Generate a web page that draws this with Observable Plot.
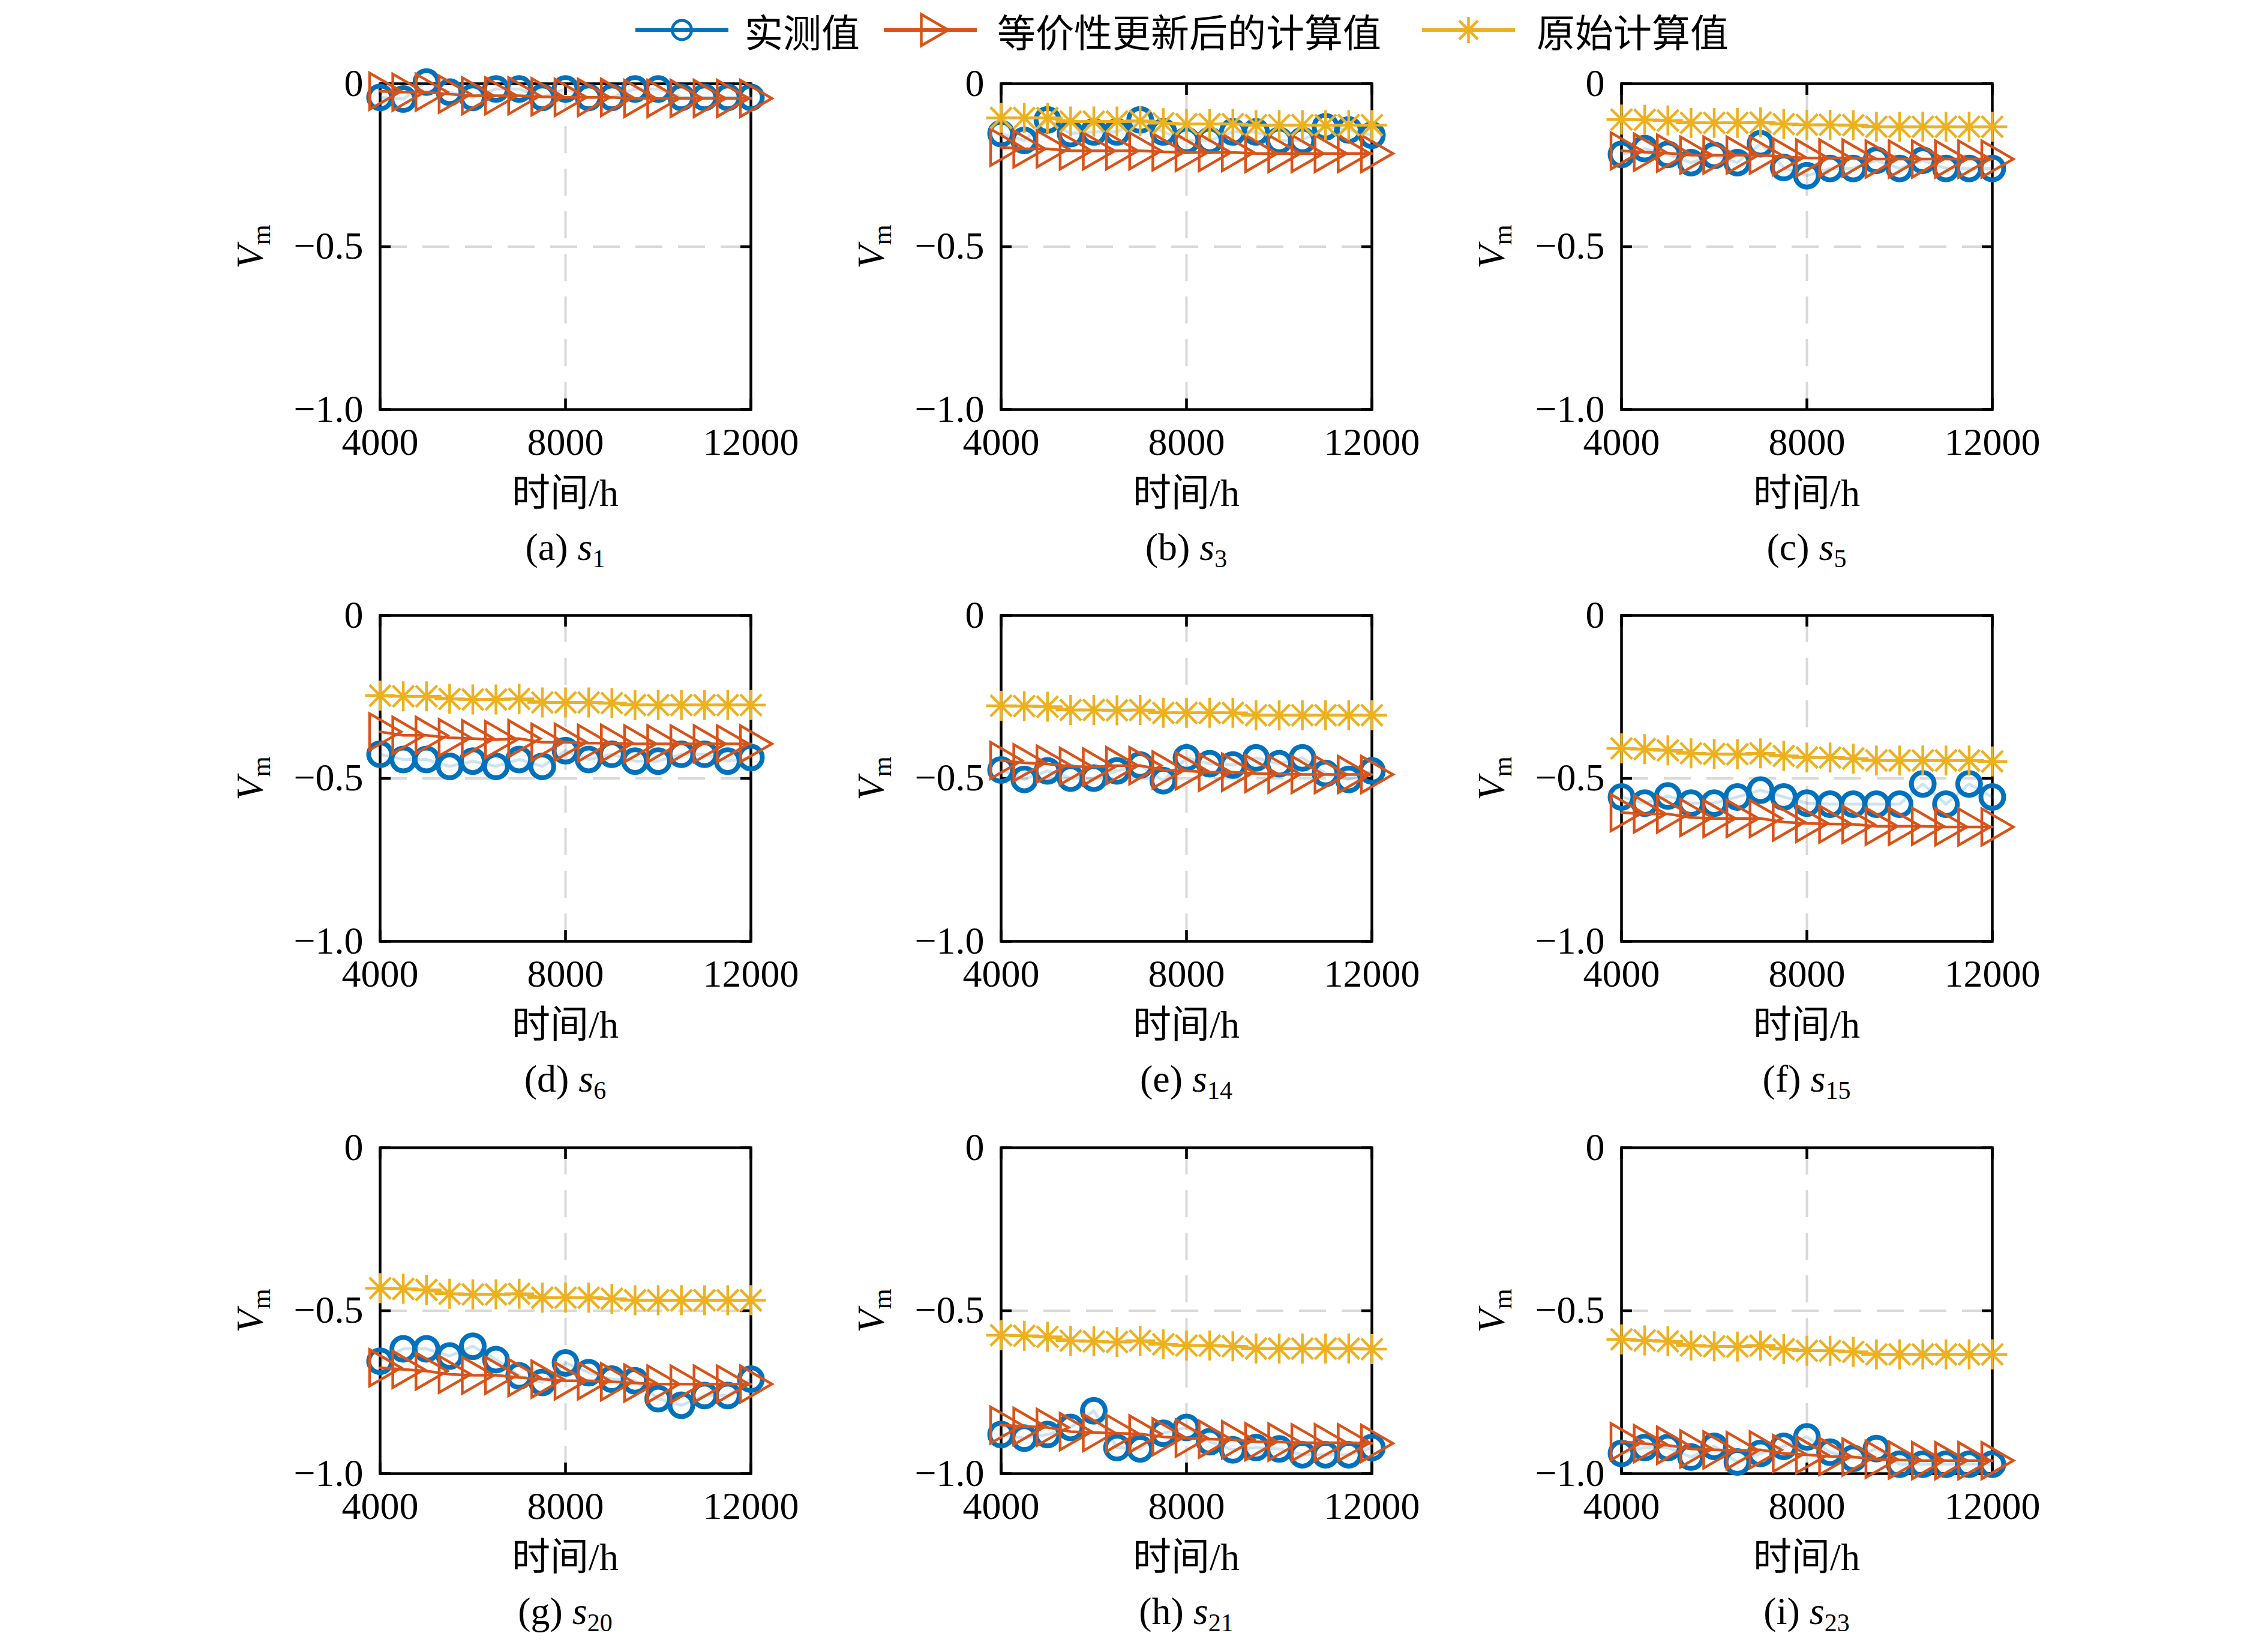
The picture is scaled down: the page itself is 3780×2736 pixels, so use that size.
<!DOCTYPE html>
<html><head><meta charset="utf-8">
<script src="https://cdn.jsdelivr.net/npm/d3@7"></script>
<script src="https://cdn.jsdelivr.net/npm/@observablehq/plot@0.6"></script>
<style>
body{margin:0;background:#fff;}
#fig{position:relative;width:3780px;height:2736px;background:#fff;overflow:hidden;font-family:"Liberation Serif","Noto Sans CJK SC",serif;color:#000;}
.abs{position:absolute;white-space:nowrap;line-height:1;}
.ctr{transform:translate(-50%,-50%);}
.txt{font-size:64px;font-family:"Liberation Serif","Noto Sans CJK SC",serif;}
.leg{font-size:64px;line-height:1.5;font-family:"Noto Sans CJK SC",sans-serif;transform:translateY(-50%);}
.panel{position:absolute;}
</style></head>
<body><div id="fig"></div>
<script>
// ---------- data ----------
const hours = [4000,4500,5000,5500,6000,6500,7000,7500,8000,8500,9000,9500,10000,10500,11000,11500,12000];
const letters = ["a","b","c","d","e","f","g","h","i"];
const sensors = ["1","3","5","6","14","15","20","21","23"];
const seriesNames = ["实测值","等价性更新后的计算值","原始计算值"];
const xTicks = [4000,8000,12000];
const yTicks = [0,-0.5,-1.0];

// (a) s1
const meas_s1 = [-0.042,-0.047,0.005,-0.026,-0.042,-0.016,-0.016,-0.042,-0.016,-0.042,-0.042,-0.016,-0.016,-0.042,-0.042,-0.042,-0.042];
const upd_s1  = [-0.023,-0.026,-0.026,-0.032,-0.037,-0.037,-0.037,-0.040,-0.042,-0.042,-0.042,-0.045,-0.045,-0.045,-0.045,-0.045,-0.045];
const orig_s1 = [];
// (b) s3
const meas_s3 = [-0.153,-0.174,-0.111,-0.153,-0.148,-0.148,-0.111,-0.148,-0.174,-0.174,-0.148,-0.148,-0.174,-0.174,-0.132,-0.142,-0.158];
const upd_s3  = [-0.195,-0.200,-0.200,-0.206,-0.206,-0.206,-0.206,-0.209,-0.211,-0.211,-0.211,-0.214,-0.214,-0.214,-0.214,-0.214,-0.214];
const orig_s3 = [-0.105,-0.105,-0.105,-0.116,-0.116,-0.116,-0.114,-0.121,-0.124,-0.124,-0.124,-0.127,-0.127,-0.127,-0.127,-0.127,-0.127];
// (c) s5
const meas_s5 = [-0.217,-0.199,-0.217,-0.242,-0.220,-0.242,-0.184,-0.257,-0.282,-0.260,-0.260,-0.235,-0.260,-0.235,-0.260,-0.260,-0.260];
const upd_s5  = [-0.206,-0.210,-0.213,-0.219,-0.219,-0.219,-0.219,-0.224,-0.228,-0.228,-0.228,-0.231,-0.231,-0.231,-0.231,-0.231,-0.231];
const orig_s5 = [-0.110,-0.111,-0.113,-0.120,-0.120,-0.120,-0.119,-0.124,-0.126,-0.126,-0.127,-0.132,-0.132,-0.132,-0.132,-0.132,-0.132];
// (d) s6
const meas_s6 = [-0.426,-0.442,-0.442,-0.463,-0.447,-0.463,-0.442,-0.463,-0.415,-0.442,-0.426,-0.447,-0.447,-0.426,-0.426,-0.447,-0.436];
const upd_s6  = [-0.357,-0.368,-0.368,-0.375,-0.378,-0.381,-0.378,-0.389,-0.389,-0.392,-0.392,-0.394,-0.394,-0.394,-0.394,-0.394,-0.394];
const orig_s6 = [-0.246,-0.248,-0.248,-0.256,-0.258,-0.258,-0.256,-0.267,-0.267,-0.267,-0.269,-0.275,-0.275,-0.275,-0.275,-0.275,-0.275];
// (e) s14
const meas_s14 = [-0.474,-0.503,-0.477,-0.499,-0.499,-0.477,-0.459,-0.507,-0.437,-0.455,-0.459,-0.437,-0.455,-0.437,-0.485,-0.503,-0.477];
const upd_s14  = [-0.445,-0.452,-0.456,-0.463,-0.465,-0.461,-0.461,-0.474,-0.477,-0.481,-0.481,-0.485,-0.487,-0.488,-0.488,-0.488,-0.488];
const orig_s14 = [-0.277,-0.278,-0.280,-0.290,-0.290,-0.291,-0.290,-0.299,-0.299,-0.299,-0.299,-0.306,-0.306,-0.306,-0.306,-0.306,-0.306];
// (f) s15
const meas_s15 = [-0.557,-0.576,-0.554,-0.576,-0.576,-0.557,-0.536,-0.557,-0.576,-0.579,-0.579,-0.579,-0.579,-0.517,-0.579,-0.517,-0.557];
const upd_s15  = [-0.605,-0.609,-0.609,-0.620,-0.623,-0.623,-0.623,-0.634,-0.638,-0.640,-0.641,-0.647,-0.647,-0.647,-0.649,-0.649,-0.649];
const orig_s15 = [-0.408,-0.410,-0.414,-0.423,-0.425,-0.426,-0.423,-0.431,-0.436,-0.436,-0.439,-0.445,-0.445,-0.445,-0.445,-0.445,-0.448];
// (g) s20
const meas_s20 = [-0.655,-0.617,-0.617,-0.639,-0.609,-0.650,-0.700,-0.720,-0.660,-0.690,-0.710,-0.715,-0.770,-0.790,-0.760,-0.760,-0.710];
const upd_s20  = [-0.675,-0.680,-0.685,-0.695,-0.698,-0.698,-0.705,-0.710,-0.715,-0.715,-0.718,-0.722,-0.725,-0.725,-0.725,-0.725,-0.725];
const orig_s20 = [-0.431,-0.433,-0.436,-0.448,-0.450,-0.450,-0.448,-0.460,-0.460,-0.460,-0.463,-0.468,-0.468,-0.468,-0.468,-0.468,-0.468];
// (h) s21
const meas_s21 = [-0.880,-0.891,-0.880,-0.858,-0.807,-0.920,-0.924,-0.876,-0.858,-0.902,-0.927,-0.920,-0.924,-0.942,-0.942,-0.942,-0.920];
const upd_s21  = [-0.851,-0.855,-0.858,-0.871,-0.874,-0.876,-0.878,-0.887,-0.891,-0.894,-0.896,-0.902,-0.903,-0.905,-0.905,-0.905,-0.907];
const orig_s21 = [-0.575,-0.577,-0.580,-0.592,-0.594,-0.596,-0.592,-0.603,-0.607,-0.607,-0.609,-0.616,-0.616,-0.616,-0.616,-0.616,-0.618];
// (i) s23
const meas_s23 = [-0.938,-0.920,-0.920,-0.949,-0.916,-0.964,-0.938,-0.916,-0.887,-0.934,-0.953,-0.923,-0.971,-0.971,-0.971,-0.971,-0.971];
const upd_s23  = [-0.902,-0.908,-0.913,-0.924,-0.927,-0.929,-0.927,-0.938,-0.942,-0.947,-0.949,-0.956,-0.958,-0.960,-0.960,-0.960,-0.960];
const orig_s23 = [-0.588,-0.591,-0.594,-0.607,-0.609,-0.610,-0.607,-0.618,-0.623,-0.623,-0.626,-0.634,-0.634,-0.634,-0.634,-0.634,-0.634];

const measList = [meas_s1,meas_s3,meas_s5,meas_s6,meas_s14,meas_s15,meas_s20,meas_s21,meas_s23];
const updList  = [upd_s1,upd_s3,upd_s5,upd_s6,upd_s14,upd_s15,upd_s20,upd_s21,upd_s23];
const origList = [orig_s1,orig_s3,orig_s5,orig_s6,orig_s14,orig_s15,orig_s20,orig_s21,orig_s23];

// ---------- style ----------
const C_BLUE = "#0072BD", C_ORANGE = "#D95319", C_YELLOW = "#EDB120";
const FONT = "Liberation Serif, Noto Sans CJK SC, serif";
const colLeft = [633, 1668, 2702];
const rowTop = [139, 1025, 1912];
const W = 618, H = 543;
const mL = 180, mR = 100, mT = 50, mB = 110;

// custom MATLAB-like symbols
const triRight = {
  draw(ctx, size) {
    const r = Math.sqrt(size / Math.PI);
    ctx.moveTo(r, 0);
    ctx.lineTo(-r / 2, -r * 0.866);
    ctx.lineTo(-r / 2, r * 0.866);
    ctx.closePath();
  }
};
const asterisk8 = {
  draw(ctx, size) {
    const r = Math.sqrt(size / Math.PI);
    const d = r * 0.7071;
    ctx.moveTo(0, -r); ctx.lineTo(0, r);
    ctx.moveTo(-r, 0); ctx.lineTo(r, 0);
    ctx.moveTo(-d, -d); ctx.lineTo(d, d);
    ctx.moveTo(-d, d); ctx.lineTo(d, -d);
  }
};

const fig = document.getElementById("fig");
const fmtY = d => d === 0 ? "0" : "\u2212" + Math.abs(d).toFixed(1);

function toRows(vals) { return vals.map((v, i) => ({t: hours[i], v})); }

letters.forEach((letter, k) => {
  const col = k % 3, row = Math.floor(k / 3);
  const meas = toRows(measList[k]);
  const upd = toRows(updList[k]);
  const orig = toRows(origList[k]);
  const tickOpts = {ticks: xTicks, tickSize: -18, tickFormat: () => "", label: null, strokeWidth: 4.5};
  const ytickOpts = {ticks: yTicks, tickSize: -18, tickFormat: () => "", label: null, strokeWidth: 4.5};
  const marks = [
    Plot.ruleX([8000], {stroke: "#d9d9d9", strokeWidth: 4, strokeDasharray: "45,26"}),
    Plot.ruleY([-0.5], {stroke: "#d9d9d9", strokeWidth: 4, strokeDasharray: "45,26"}),
    Plot.frame({stroke: "#000", strokeWidth: 4.5}),
    Plot.axisX({anchor: "bottom", ticks: xTicks, tickSize: 0, tickPadding: 30, tickFormat: d => String(d), label: null, fontSize: 64, fontFamily: FONT}),
    Plot.axisX({anchor: "bottom", ...tickOpts}),
    Plot.axisX({anchor: "top", ...tickOpts}),
    Plot.axisY({anchor: "left", ticks: yTicks, tickSize: 0, tickPadding: 28, tickFormat: fmtY, label: null, fontSize: 64, fontFamily: FONT}),
    Plot.axisY({anchor: "left", ...ytickOpts}),
    Plot.axisY({anchor: "right", ...ytickOpts}),
    Plot.line(meas, {x: "t", y: "v", stroke: C_BLUE, strokeOpacity: 0.2, strokeWidth: 5}),
    Plot.dot(meas, {x: "t", y: "v", r: 19, symbol: "circle", stroke: C_BLUE, strokeWidth: 8, fill: "none"}),
    Plot.line(upd, {x: "t", y: "v", stroke: C_ORANGE, strokeWidth: 4.5}),
    Plot.dot(upd, {x: "t", y: "v", r: 35, symbol: triRight, stroke: C_ORANGE, strokeWidth: 4.5, fill: "none"})
  ];
  if (orig.length) {
    marks.push(Plot.line(orig, {x: "t", y: "v", stroke: C_YELLOW, strokeWidth: 4.5}));
    marks.push(Plot.dot(orig, {x: "t", y: "v", r: 25, symbol: asterisk8, stroke: C_YELLOW, strokeWidth: 4.5, fill: "none"}));
  }
  const chart = Plot.plot({
    width: W + mL + mR,
    height: H + mT + mB,
    marginLeft: mL, marginRight: mR, marginTop: mT, marginBottom: mB,
    style: {fontFamily: FONT, fontSize: "64px", background: "transparent", overflow: "visible"},
    x: {domain: [4000, 12000], axis: null},
    y: {domain: [-1, 0], axis: null},
    marks
  });
  const wrap = document.createElement("div");
  wrap.className = "panel";
  wrap.style.left = (colLeft[col] - mL) + "px";
  wrap.style.top = (rowTop[row] - mT) + "px";
  wrap.appendChild(chart);
  fig.appendChild(wrap);

  const cx = colLeft[col] + W / 2;
  const bottom = rowTop[row] + H;

  const xl = document.createElement("div");
  xl.className = "abs ctr txt";
  xl.style.left = cx + "px";
  xl.style.top = (bottom + 140) + "px";
  xl.textContent = "时间/h";
  fig.appendChild(xl);

  const cap = document.createElement("div");
  cap.className = "abs ctr txt";
  cap.style.left = cx + "px";
  cap.style.top = (bottom + 230) + "px";
  cap.innerHTML = "(" + letter + ") <i>s</i><span style=\"font-size:42px;position:relative;top:12px;\">" + sensors[k] + "</span>";
  fig.appendChild(cap);

  const yl = document.createElement("div");
  yl.className = "abs txt";
  yl.style.left = (colLeft[col] - 216) + "px";
  yl.style.top = (rowTop[row] + H / 2) + "px";
  yl.style.transform = "translate(-50%,-50%) rotate(-90deg)";
  yl.innerHTML = "<i>V</i><span style=\"font-size:44px;position:relative;top:12px;\">m</span>";
  fig.appendChild(yl);
});

// ---------- legend ----------
const legendItems = [
  {name: seriesNames[0], color: C_BLUE, lineX: 1059, textX: 1241, shape: "circle"},
  {name: seriesNames[1], color: C_ORANGE, lineX: 1473, textX: 1662, shape: "tri"},
  {name: seriesNames[2], color: C_YELLOW, lineX: 2370, textX: 2561, shape: "star"}
];
const LY = 50;
legendItems.forEach(it => {
  const ns = "http://www.w3.org/2000/svg";
  const svg = document.createElementNS(ns, "svg");
  svg.setAttribute("width", 155); svg.setAttribute("height", 70);
  svg.style.position = "absolute";
  svg.style.left = it.lineX + "px";
  svg.style.top = (LY - 35) + "px";
  svg.style.overflow = "visible";
  const ln = document.createElementNS(ns, "line");
  ln.setAttribute("x1", 0); ln.setAttribute("x2", 155);
  ln.setAttribute("y1", 35); ln.setAttribute("y2", 35);
  ln.setAttribute("stroke", it.color); ln.setAttribute("stroke-width", 6);
  svg.appendChild(ln);
  const p = document.createElementNS(ns, "path");
  const path = d3.path();
  if (it.shape === "circle") {
    d3.symbolCircle.draw(path, 16 * 16 * Math.PI);
    p.setAttribute("stroke-width", 5);
  } else if (it.shape === "tri") {
    triRight.draw(path, 30 * 30 * Math.PI);
    p.setAttribute("stroke-width", 4.5);
  } else {
    asterisk8.draw(path, 22 * 22 * Math.PI);
    p.setAttribute("stroke-width", 4.5);
  }
  p.setAttribute("d", path.toString());
  p.setAttribute("transform", "translate(77.5,35)");
  p.setAttribute("fill", "none");
  p.setAttribute("stroke", it.color);
  svg.appendChild(p);
  fig.appendChild(svg);
  const t = document.createElement("div");
  t.className = "abs leg";
  t.style.left = it.textX + "px";
  t.style.top = LY + "px";
  t.textContent = it.name;
  fig.appendChild(t);
});
</script>
</body></html>
